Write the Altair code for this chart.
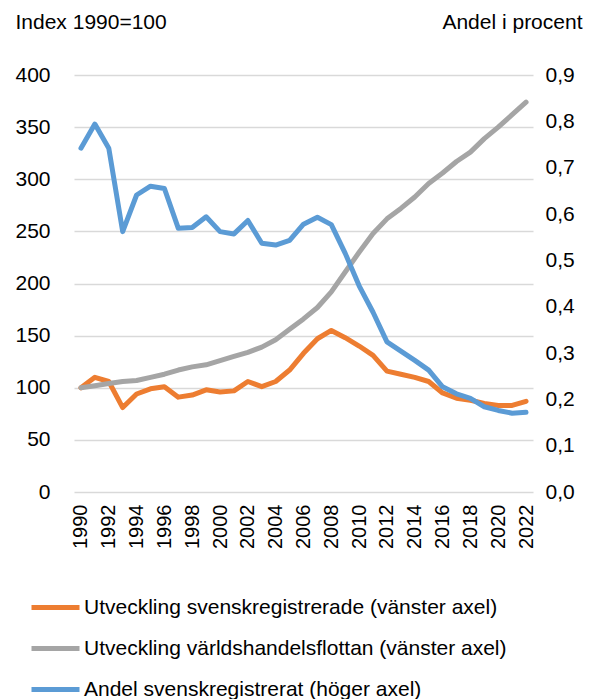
import altair as alt
import pandas as pd

years = list(range(1990, 2023))
svensk = [100, 110, 106, 81, 94, 99, 101, 91, 93, 98, 96, 97, 106, 101, 106,
          117, 133, 147, 155, 148, 140, 131, 116, 113, 110, 106, 95, 90, 88,
          85, 83, 83, 87]
varld = [100, 102, 104, 106, 107, 110, 113, 117, 120, 122, 126, 130, 134, 139,
         146, 156, 166, 177, 192, 211, 230, 248, 262, 272, 283, 296, 306, 317,
         326, 339, 350, 362, 374]
andel = [0.742, 0.794, 0.742, 0.562, 0.641, 0.660, 0.655, 0.569, 0.571, 0.594,
         0.562, 0.557, 0.586, 0.537, 0.533, 0.543, 0.578, 0.593, 0.577, 0.515,
         0.445, 0.388, 0.324, 0.304, 0.284, 0.263, 0.227, 0.212, 0.202, 0.184,
         0.176, 0.170, 0.172]

s1 = "Utveckling svenskregistrerade (vänster axel)"
s2 = "Utveckling världshandelsflottan (vänster axel)"
s3 = "Andel svenskregistrerat (höger axel)"
series_names = [s1, s2, s3]
colors = ["#ED7D31", "#A5A5A5", "#5B9BD5"]

left_ticks = list(range(0, 401, 50))
right_ticks = [round(i * 0.1, 1) for i in range(10)]
x_ticks = years[::2]

left_df = pd.DataFrame({
    "year": years * 2,
    "value": svensk + varld,
    "series": [s1] * len(years) + [s2] * len(years),
})
right_df = pd.DataFrame({"year": years, "value": andel, "series": [s3] * len(years)})

FONT = "Liberation Sans"

color = alt.Color(
    "series:N",
    scale=alt.Scale(domain=series_names, range=colors),
    legend=alt.Legend(
        title=None, orient="none", legendX=-45, legendY=506, direction="vertical",
        symbolType="stroke", symbolSize=2304, symbolStrokeWidth=5,
        labelFontSize=21, labelFont=FONT, labelColor="#000000", labelOffset=2,
        rowPadding=4, labelLimit=600, padding=0,
    ),
)

x = alt.X(
    "year:O",
    scale=alt.Scale(type="point", padding=0.5),
    axis=alt.Axis(values=x_ticks, labelAngle=-90, title=None, labelFontSize=20,
                  labelFont=FONT, labelColor="#000000", labelPadding=12,
                  ticks=False, domain=False, grid=False),
)

line_kw = dict(strokeWidth=5, strokeJoin="round", strokeCap="round")

left_layer = alt.Chart(left_df).mark_line(**line_kw).encode(
    x=x,
    y=alt.Y("value:Q", scale=alt.Scale(domain=[0, 400]),
            axis=alt.Axis(values=left_ticks, title="Index 1990=100", titleAngle=0,
                          titleX=-59, titleY=-47, titleAlign="left",
                          titleBaseline="alphabetic", titleFontSize=21,
                          titleFontWeight="normal", titleFont=FONT, titleColor="#000000",
                          labelFontSize=21, labelFont=FONT, labelColor="#000000",
                          labelPadding=24, grid=True, gridColor="#D9D9D9",
                          gridWidth=1.5, domain=False, ticks=False)),
    color=color,
)

right_layer = alt.Chart(right_df).mark_line(**line_kw).encode(
    x=x,
    y=alt.Y("value:Q", scale=alt.Scale(domain=[0, 0.9]),
            axis=alt.Axis(orient="right", values=right_ticks,
                          labelExpr="replace(format(datum.value, '.1f'), '.', ',')",
                          title="Andel i procent", titleAngle=0,
                          titleX=49, titleY=-47, titleAlign="right",
                          titleBaseline="alphabetic", titleFontSize=21,
                          titleFontWeight="normal", titleFont=FONT, titleColor="#000000",
                          labelFontSize=21, labelFont=FONT, labelColor="#000000",
                          labelPadding=12, grid=False, domain=False, ticks=False)),
    color=color,
)

chart = alt.layer(left_layer, right_layer).resolve_scale(y="independent").properties(
    width=459, height=417,
    autosize=alt.AutoSizeParams(type="none"),
    padding={"left": 66, "top": 67, "right": 50, "bottom": 207},
).configure_view(stroke=None)

chart.save("out.html", embed_options={"renderer": "svg", "actions": False})
